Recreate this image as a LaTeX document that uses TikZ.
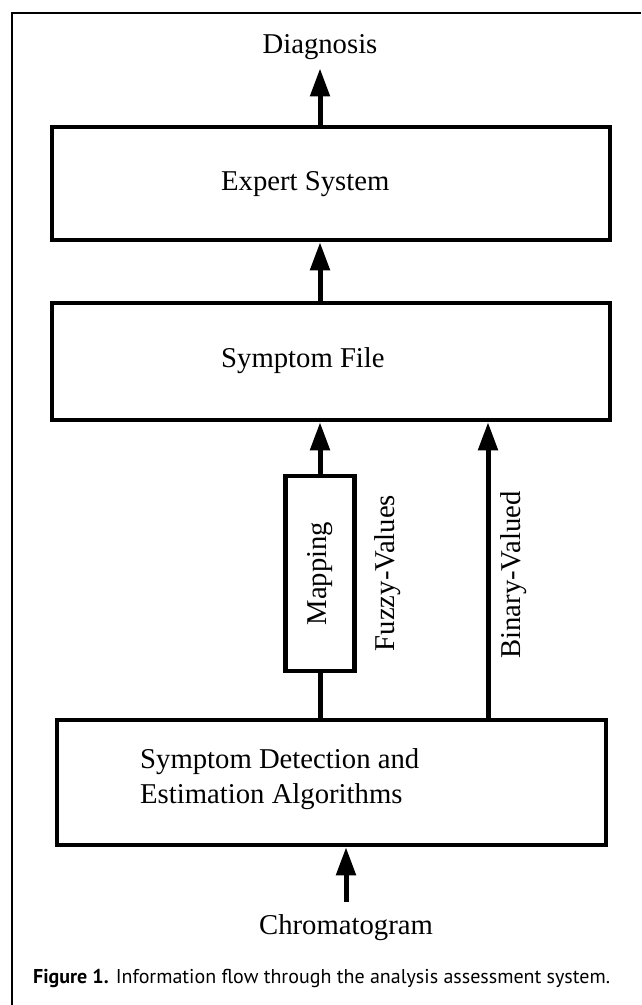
\documentclass[tikz,border=0pt]{standalone}
\usepackage{fontspec}
\setmainfont{Liberation Serif}
\newfontfamily\capfont{PT Sans}
\usetikzlibrary{arrows.meta}
\usetikzlibrary{positioning}
\usetikzlibrary{calc}
\tikzstyle{block}=[draw,line width=4.5pt,inner sep=0pt]
\tikzstyle{smallblock}=[draw,line width=4.5pt,minimum width=69pt,minimum height=195pt,inner sep=0pt,font=\fontsize{28.7}{35}\selectfont]
\tikzstyle{txt}=[font=\fontsize{28.7}{35}\selectfont,inner sep=0pt]
\tikzstyle{flow}=[draw,line width=5pt,-{Triangle[length=28pt,width=19pt]}]
\tikzstyle{link}=[draw,line width=5pt]
\tikzstyle{frame}=[draw,line width=1.5pt]

\begin{document}
\begin{tikzpicture}[x=1pt,y=-1pt]
    \useasboundingbox (0,0) rectangle (641,1005);
    \path[frame] (641,13) -- (12,13) -- (12,1005);

    \foreach \pos/\name/\bw/\bh in {{(331,183.5)/expert/558/113}, {(331,361.5)/symfile/558/117}, {(331.5,782.5)/detect/549/125}}
        \node[block,minimum width=\bw pt,minimum height=\bh pt] (\name) at \pos {};

    \node[smallblock] (mapping) at (320,573.5) {\rotatebox{90}{Mapping}};

    \node[txt,anchor=base] (diag) at (320,53) {Diagnosis};
    \node[txt,anchor=base west] (expertlbl) at (221,190) {Expert System};
    \node[txt,anchor=base west] (symfilelbl) at (221,367) {Symptom File};
    \node[txt,anchor=west,align=left] (detectlbl) at (140,779) {Symptom Detection and\\Estimation Algorithms};
    \node[txt,anchor=base] (chrom) at (346,934) {Chromatogram};

    \foreach \pos/\name/\label in {{(388,573)/fuzzy/Fuzzy-Values}, {(514,575)/binary/Binary-Valued}}
        \node[txt,rotate=90] (\name) at \pos {\label};

    \node[anchor=base west,inner sep=0pt,font=\capfont\fontsize{20}{24}\selectfont] (caption) at (33,983)
        {\textbf{Figure 1.} Information flow through the analysis assessment system.};

    \draw[flow,shorten >=9pt] (expert.north -| diag.south) -- (diag.south);
    \draw[flow] (symfile.north -| diag) -- (expert.south -| diag);
    \draw[flow] (mapping.north) -- (symfile.south -| mapping);
    \draw[link] (detect.north -| mapping) -- (mapping.south);
    \coordinate (binfoot) at ($(detect.north)+(156.5,0)$);
    \draw[flow] (binfoot) -- (binfoot |- symfile.south);
    \draw[flow,shorten <=12pt] (chrom.north) -- (chrom.north |- detect.south);
\end{tikzpicture}
\end{document}
